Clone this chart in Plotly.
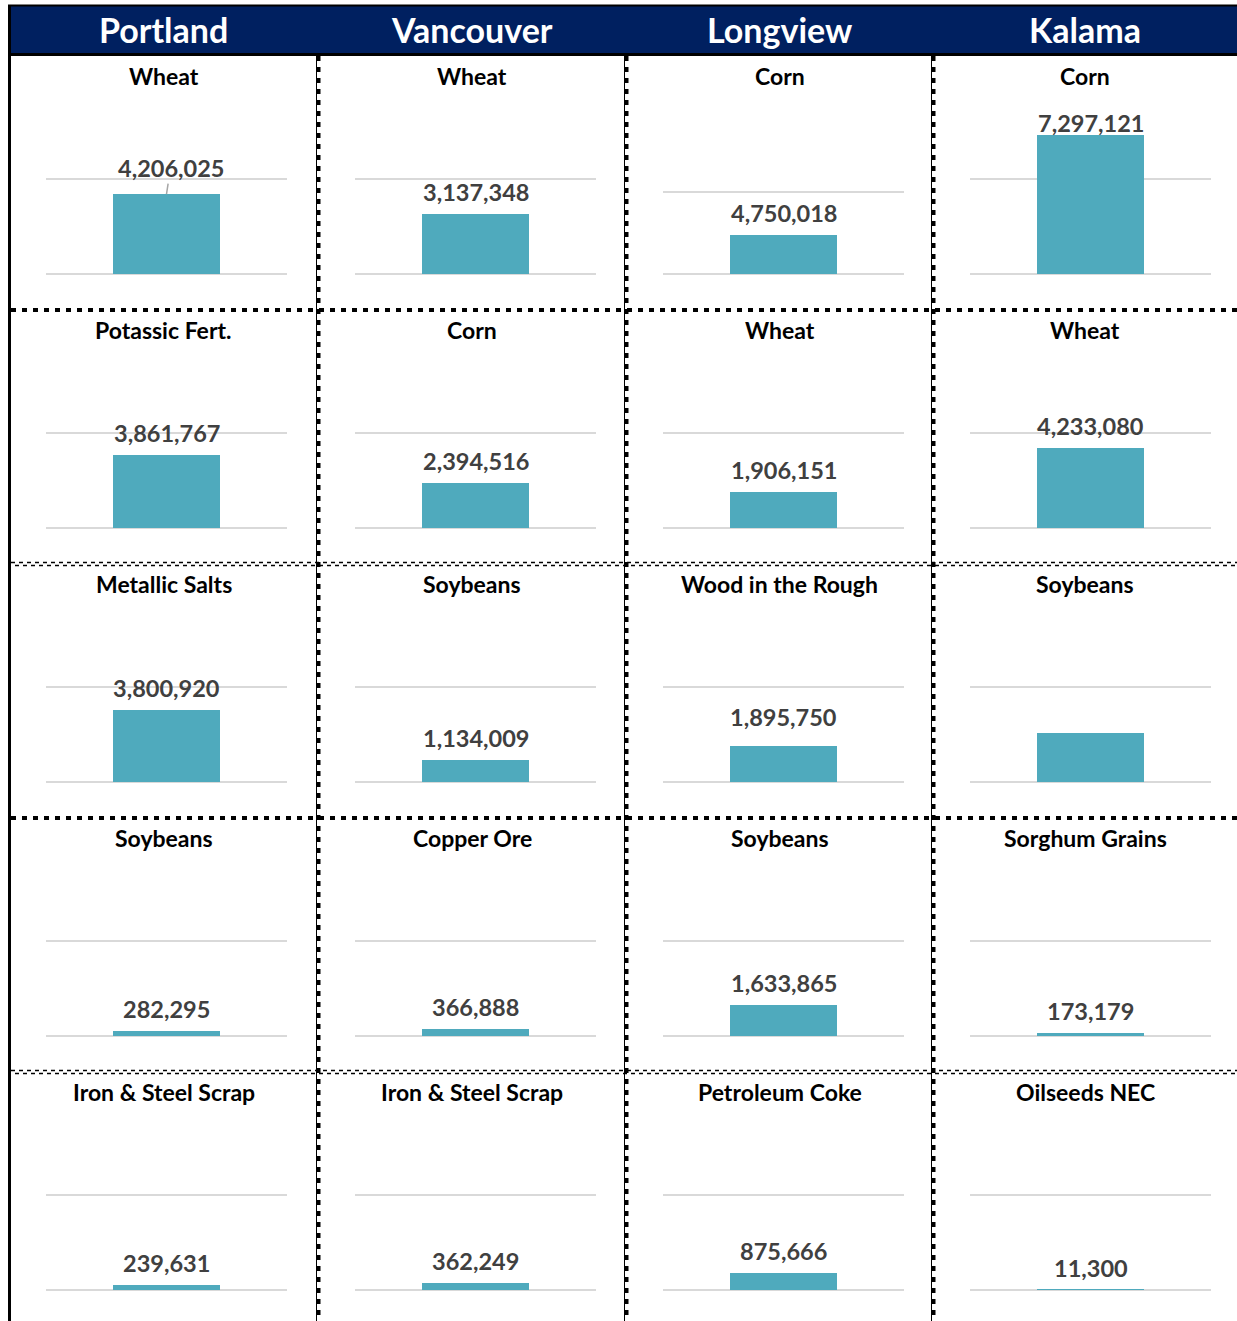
import plotly.graph_objects as go

W, H = 1237, 1321

# ---- data ----
ports = ["Portland", "Vancouver", "Longview", "Kalama"]

portland_items = ["Wheat", "Potassic Fert.", "Metallic Salts", "Soybeans", "Iron & Steel Scrap"]
portland_tons = [4206025, 3861767, 3800920, 282295, 239631]

vancouver_items = ["Wheat", "Corn", "Soybeans", "Copper Ore", "Iron & Steel Scrap"]
vancouver_tons = [3137348, 2394516, 1134009, 366888, 362249]

longview_items = ["Corn", "Wheat", "Wood in the Rough", "Soybeans", "Petroleum Coke"]
longview_tons = [4750018, 1906151, 1895750, 1633865, 875666]

kalama_items = ["Corn", "Wheat", "Soybeans", "Sorghum Grains", "Oilseeds NEC"]
kalama_tons = [7297121, 4233080, 2600000, 173179, 11300]

items = [portland_items, vancouver_items, longview_items, kalama_items]
tons = [portland_tons, vancouver_tons, longview_tons, kalama_tons]

# the Kalama soybeans chart carries no data label in the original
no_label = {(3, 2)}

# ---- layout helpers (pixel grid of the original sheet) ----
col_left = [9, 318, 626, 933]
col_right = [318, 626, 933, 1237]
row_top = [56, 310, 564, 818, 1072]

BAR = "#4FAABD"
NAVY = "#002060"
FONT = "Lato"

# axis gridline value and its height in px above the baseline
grid_default = (5_000_000, 95)
grid_override = {(2, 0): (10_000_000, 82)}
# small tweaks of where the data label sits above the bar (px)
label_lift = {(3, 0): 12, (2, 2): 29}


def px(x):
    return x / W


def py(y):
    return 1 - y / H


fig = go.Figure()
annotations = []
shapes = []
layout_axes = {}

i = 0
for c in range(4):
    for r in range(5):
        i += 1
        name = "" if i == 1 else str(i)
        cx0, cx1, cy0 = col_left[c], col_right[c], row_top[r]
        baseline = cy0 + 218
        gval, gpx = grid_override.get((c, r), grid_default)
        v = tons[c][r]

        fig.add_trace(go.Bar(
            x=[0], y=[v], width=0.448, marker_color=BAR, marker_line_width=0,
            xaxis="x" + name, yaxis="y" + name, showlegend=False, hoverinfo="y",
        ))

        layout_axes["xaxis" + name] = dict(
            domain=[px(cx0 + 37), px(cx0 + 278)], range=[-0.5, 0.5],
            visible=False, anchor="y" + name, fixedrange=True,
        )
        layout_axes["yaxis" + name] = dict(
            domain=[py(baseline + 3), py(baseline - 190)],
            range=[-3 * gval / gpx, 190 * gval / gpx],
            tickvals=[0, gval], showticklabels=False, ticks="",
            showgrid=True, gridcolor="#D9D9D9", gridwidth=2,
            zeroline=False, showline=False, anchor="x" + name, fixedrange=True,
        )

        # panel title
        annotations.append(dict(
            x=px((cx0 + cx1) / 2), y=py(cy0 + 20), xref="paper", yref="paper",
            text=items[c][r], showarrow=False, xanchor="center", yanchor="middle",
            font=dict(family=FONT, size=23, color="black", weight="bold"),
        ))

        # data label
        if (c, r) not in no_label:
            lab = dict(
                x=0, y=v, xref="x" + name, yref="y" + name,
                text=f"{v:,}", showarrow=False, xanchor="center", yanchor="middle",
                yshift=label_lift.get((c, r), 22),
                font=dict(family=FONT, size=23.5, color="#404040", weight="bold"),
            )
            if (c, r) == (0, 0):
                # leader line, as in the original
                lab.update(showarrow=True, arrowhead=0, arrowwidth=1.5,
                           arrowcolor="#A6A6A6", ax=4, ay=-26, yshift=0,
                           standoff=0)
            annotations.append(lab)

# header band
shapes.append(dict(type="rect", xref="paper", yref="paper",
                   x0=px(8), x1=1.01, y0=py(53), y1=py(6),
                   fillcolor=NAVY, line_width=0, layer="above"))
shapes.append(dict(type="line", xref="paper", yref="paper",
                   x0=px(8), x1=1.01, y0=py(5.5), y1=py(5.5),
                   line=dict(color="black", width=2)))
shapes.append(dict(type="line", xref="paper", yref="paper",
                   x0=px(8), x1=1.01, y0=py(54.5), y1=py(54.5),
                   line=dict(color="black", width=3)))
# left border
shapes.append(dict(type="line", xref="paper", yref="paper",
                   x0=px(9.5), x1=px(9.5), y0=py(5), y1=0,
                   line=dict(color="black", width=3)))

for c, port in enumerate(ports):
    annotations.append(dict(
        x=px((col_left[c] + col_right[c]) / 2), y=py(30), xref="paper", yref="paper",
        text=port, showarrow=False, xanchor="center", yanchor="middle",
        font=dict(family=FONT, size=34, color="white", weight="bold"),
    ))

# horizontal separators: heavy dotted after rows 1 and 3, fine zigzag after rows 2 and 4
for k, yb in enumerate(row_top[1:]):
    if k % 2 == 0:
        shapes.append(dict(type="line", xref="paper", yref="paper",
                           x0=px(11), x1=1, y0=py(yb), y1=py(yb),
                           line=dict(color="black", width=4, dash="5px,6px")))
    else:
        shapes.append(dict(type="line", xref="paper", yref="paper",
                           x0=px(11), x1=1, y0=py(yb - 1.5), y1=py(yb - 1.5),
                           line=dict(color="black", width=1.5, dash="4px,4px")))
        shapes.append(dict(type="line", xref="paper", yref="paper",
                           x0=px(11), x1=1, y0=py(yb + 1.5), y1=py(yb + 1.5),
                           line=dict(color="black", width=1.5, dash="0px,4px,4px,0px")))

# vertical separators
for xb in col_left[1:]:
    shapes.append(dict(type="line", xref="paper", yref="paper",
                       x0=px(xb - 1.5), x1=px(xb - 1.5), y0=py(56), y1=0,
                       line=dict(color="black", width=1)))
    shapes.append(dict(type="line", xref="paper", yref="paper",
                       x0=px(xb + 0.5), x1=px(xb + 0.5), y0=py(56), y1=0,
                       line=dict(color="black", width=4, dash="5px,6px")))

fig.update_layout(
    width=W, height=H, margin=dict(l=0, r=0, t=0, b=0),
    paper_bgcolor="white", plot_bgcolor="white",
    font=dict(family=FONT), bargap=0,
    annotations=annotations, shapes=shapes,
    **layout_axes,
)

fig.write_html("out.html", config={"displayModeBar": False},
               post_script="document.body.style.margin='0';document.body.style.overflow='hidden';")
